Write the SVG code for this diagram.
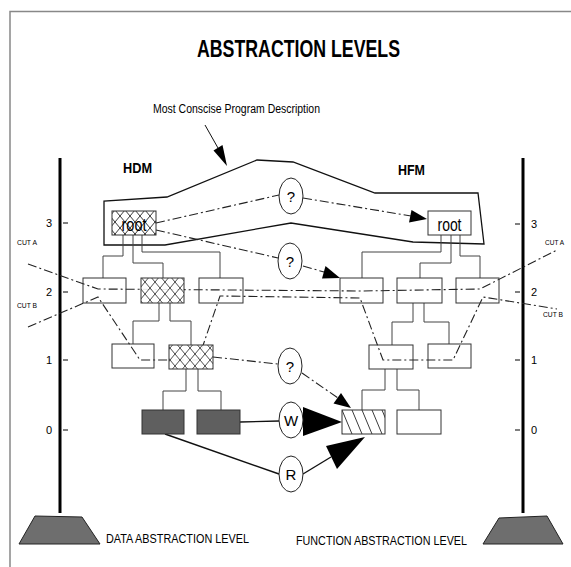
<svg xmlns="http://www.w3.org/2000/svg" width="571" height="567" viewBox="0 0 571 567">
<style>
.t{font-family:"Liberation Sans Narrow","Liberation Sans",Arial,sans-serif;fill:#000}
.b{font-weight:bold}
.box{fill:#fff;stroke:#333;stroke-width:1}
.xh{fill:url(#xh);stroke:#333;stroke-width:1}
.dk{fill:#5f5f5f;stroke:#333;stroke-width:1}
.tree{fill:none;stroke:#444;stroke-width:1}
.dd{fill:none;stroke:#222;stroke-width:1.1;stroke-dasharray:9 3 2 3}
.sol{fill:none;stroke:#111;stroke-width:1.4}
.circ{fill:#fff;stroke:#222;stroke-width:1}
.head{fill:#000}
.axis{stroke:#000;stroke-width:3}
.tick{stroke:#000;stroke-width:1}
.foot{fill:#6e6e6e;stroke:#222;stroke-width:1}
</style>
<defs>
<pattern id="xh" patternUnits="userSpaceOnUse" width="10" height="12">
<rect width="10" height="12" fill="#fff"/>
<path d="M0,0 L10,12 M10,0 L0,12" stroke="#222" stroke-width="0.9" fill="none"/>
</pattern>
<pattern id="dh" patternUnits="userSpaceOnUse" x="342" y="410" width="10" height="24">
<rect width="10" height="24" fill="#fff"/>
<path d="M0,0 L10,24 M-10,0 L0,24 M10,0 L20,24" stroke="#222" stroke-width="0.9" fill="none"/>
</pattern>
</defs>

<!-- frame -->
<path d="M10,567 V11.5 H571" fill="none" stroke="#888" stroke-width="1.5"/>

<!-- title -->
<text class="t b" x="197" y="57" font-size="23" textLength="203" lengthAdjust="spacingAndGlyphs">ABSTRACTION LEVELS</text>
<text class="t" x="153" y="113" font-size="12.5" textLength="167" lengthAdjust="spacingAndGlyphs">Most Conscise Program Description</text>
<text class="t b" x="123" y="173" font-size="15" textLength="29" lengthAdjust="spacingAndGlyphs">HDM</text>
<text class="t b" x="398" y="175" font-size="15" textLength="27" lengthAdjust="spacingAndGlyphs">HFM</text>

<!-- concise description outline and pointer -->
<g id="concise">
<path d="M104,201 L104,245 L165,245 L291,223 L413,242 L484,244 L478,193 L375,193 L293,162 L257,160 L167,197 Z" fill="none" stroke="#111" stroke-width="1.3"/>
<path d="M205,125 L218,148" fill="none" stroke="#111" stroke-width="1"/>
<polygon class="head" points="213.5,150.5 222.5,145 227,166"/>
</g>

<!-- axes -->
<g id="axis-left">
<line class="axis" x1="60" y1="158" x2="60" y2="513"/>
<line class="tick" x1="63" y1="223" x2="68" y2="223"/>
<line class="tick" x1="63" y1="292" x2="68" y2="292"/>
<line class="tick" x1="63" y1="360" x2="68" y2="360"/>
<line class="tick" x1="63" y1="430" x2="68" y2="430"/>
<text class="t" x="49" y="227" font-size="11" text-anchor="middle">3</text>
<text class="t" x="49" y="296" font-size="11" text-anchor="middle">2</text>
<text class="t" x="49" y="364" font-size="11" text-anchor="middle">1</text>
<text class="t" x="49" y="434" font-size="11" text-anchor="middle">0</text>
<text class="t" x="17" y="245" font-size="7.5" textLength="20" lengthAdjust="spacingAndGlyphs">CUT A</text>
<text class="t" x="17" y="308" font-size="7.5" textLength="20" lengthAdjust="spacingAndGlyphs">CUT B</text>
<polygon class="foot" points="35,516 82,517 100,544 19,544"/>
<text class="t" x="106" y="543" font-size="13.5" textLength="143" lengthAdjust="spacingAndGlyphs">DATA ABSTRACTION LEVEL</text>
</g>
<g id="axis-right">
<line class="axis" x1="523" y1="158" x2="523" y2="513"/>
<line class="tick" x1="515" y1="224" x2="520" y2="224"/>
<line class="tick" x1="515" y1="292" x2="520" y2="292"/>
<line class="tick" x1="515" y1="360" x2="520" y2="360"/>
<line class="tick" x1="515" y1="430" x2="520" y2="430"/>
<text class="t" x="534" y="228" font-size="11" text-anchor="middle">3</text>
<text class="t" x="534" y="296" font-size="11" text-anchor="middle">2</text>
<text class="t" x="534" y="364" font-size="11" text-anchor="middle">1</text>
<text class="t" x="534" y="434" font-size="11" text-anchor="middle">0</text>
<text class="t" x="545" y="245" font-size="7.5" textLength="19" lengthAdjust="spacingAndGlyphs">CUT A</text>
<text class="t" x="543" y="317" font-size="7.5" textLength="20" lengthAdjust="spacingAndGlyphs">CUT B</text>
<polygon class="foot" points="499,518 547,516 563,544 483,544"/>
<text class="t" x="296" y="545" font-size="13.5" textLength="171" lengthAdjust="spacingAndGlyphs">FUNCTION ABSTRACTION LEVEL</text>
</g>

<!-- connectors -->
<g id="connectors">
<path class="tree" d="M123,235 V256 H103 V278 M133,235 V263 H163 V278 M142,235 V252 H220 V278"/>
<path class="tree" d="M159,303 V321 H133 V344 M170,303 V321 H191 V345"/>
<path class="tree" d="M186,369 V391 H163 V410 M198,369 V391 H221 V410"/>
<path class="tree" d="M441,235 V252 H362 V278 M451,235 V263 H420 V278 M460,235 V256 H480 V278"/>
<path class="tree" d="M413,303 V322 H392 V345 M424,303 V322 H449 V344"/>
<path class="tree" d="M385,369 V390 H362 V410 M397,369 V390 H419 V410"/>
<path class="dd" d="M28,264 L98,289 L362,291 L480,289 L557,250"/>
<path class="dd" d="M28,327 L98,297 L140,360 L198,360 L220,296 L360,298 L383,360 L453,360 L483,297 L557,309"/>
<path class="dd" d="M156,223 L279,195"/>
<path class="dd" d="M303,198 L411,216"/>
<polygon class="head" points="409,222.5 411.5,210 427,219"/>
<path class="dd" d="M156,230 L278,258"/>
<path class="dd" d="M303,266 L324,272"/>
<polygon class="head" points="322,278.5 325.5,266 340,278"/>
<path class="dd" d="M213,357 L278,364"/>
<path class="dd" d="M302,373 L338,398"/>
<polygon class="head" points="333.5,403.5 341,393 351,408"/>
<path class="sol" d="M240,422 L279,421"/>
<polygon class="head" points="303,407 303,436 342,422"/>
<path class="sol" d="M165,434 L279,474"/>
<path class="sol" d="M303,474 L331,457"/>
<polygon class="head" points="326,446 337,469 365,437"/>
</g>

<!-- HDM nodes -->
<g id="hdm-root"><rect class="xh" x="112" y="211" width="44" height="24"/><text class="t" x="134" y="231" font-size="18" text-anchor="middle" textLength="25" lengthAdjust="spacingAndGlyphs">root</text></g>
<g id="hdm-2a"><rect class="box" x="83" y="278" width="43" height="25" fill-opacity="0"/></g>
<g id="hdm-2b"><rect class="xh" x="141" y="278" width="43" height="25" fill-opacity="0.9"/></g>
<g id="hdm-2c"><rect class="box" x="199" y="278" width="44" height="25" fill-opacity="0"/></g>
<g id="hdm-1a"><rect class="box" x="112" y="344" width="42" height="24" fill-opacity="0"/></g>
<g id="hdm-1b"><rect class="xh" x="169" y="345" width="44" height="24" fill-opacity="0.9"/></g>
<g id="hdm-0a"><rect class="dk" x="142" y="410" width="42" height="24"/></g>
<g id="hdm-0b"><rect class="dk" x="197" y="410" width="43" height="24"/></g>

<!-- HFM nodes -->
<g id="hfm-root"><rect class="box" x="428" y="211" width="43" height="24"/><text class="t" x="449.5" y="231" font-size="18" text-anchor="middle" textLength="24" lengthAdjust="spacingAndGlyphs">root</text></g>
<g id="hfm-2a"><rect class="box" x="340" y="278" width="43" height="25" fill-opacity="0"/></g>
<g id="hfm-2b"><rect class="box" x="397" y="278" width="45" height="25" fill-opacity="0"/></g>
<g id="hfm-2c"><rect class="box" x="456" y="278" width="43" height="25" fill-opacity="0"/></g>
<g id="hfm-1a"><rect class="box" x="369" y="345" width="44" height="24" fill-opacity="0"/></g>
<g id="hfm-1b"><rect class="box" x="428" y="344" width="43" height="24" fill-opacity="0"/></g>
<g id="hfm-0a"><rect x="342" y="410" width="43" height="24" fill="url(#dh)" stroke="#333" stroke-width="1"/></g>
<g id="hfm-0b"><rect class="box" x="397" y="410" width="44" height="24"/></g>

<!-- mapping nodes -->
<g id="q1"><ellipse class="circ" cx="291" cy="196" rx="12" ry="18"/><text class="t" x="291" y="202" font-size="15" text-anchor="middle">?</text></g>
<g id="q2"><ellipse class="circ" cx="290" cy="261" rx="12" ry="18"/><text class="t" x="290" y="267" font-size="15" text-anchor="middle">?</text></g>
<g id="q3"><ellipse class="circ" cx="290" cy="366" rx="12" ry="18"/><text class="t" x="290" y="372" font-size="15" text-anchor="middle">?</text></g>
<g id="w"><ellipse class="circ" cx="291" cy="420" rx="12" ry="18"/><text class="t" x="291" y="426" font-size="15" text-anchor="middle">W</text></g>
<g id="r"><ellipse class="circ" cx="291" cy="474" rx="12" ry="18"/><text class="t" x="291" y="480" font-size="15" text-anchor="middle">R</text></g>
</svg>
